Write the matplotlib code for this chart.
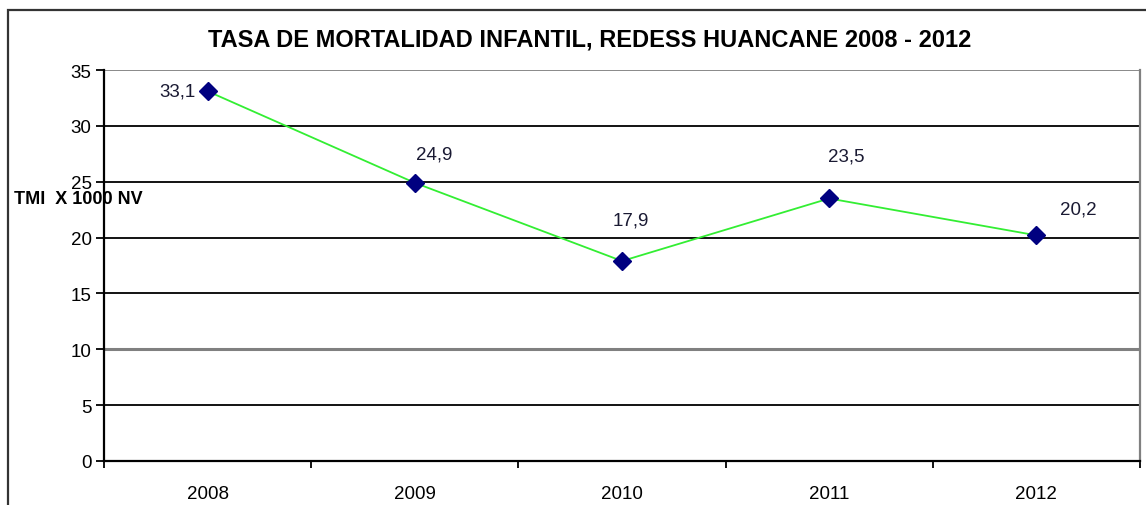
import matplotlib.pyplot as plt
from matplotlib.patches import Rectangle
import numpy as np

plt.rcParams['font.family'] = ['Liberation Sans', 'DejaVu Sans']

anios = ["2008", "2009", "2010", "2011", "2012"]
tmi = [33.1, 24.9, 17.9, 23.5, 20.2]
etiquetas = ["33,1", "24,9", "17,9", "23,5", "20,2"]

# desplazamiento de las etiquetas (pixeles)
offsets = [(-12, 0), (19, 29), (9, 41), (17, 42), (42, 26)]

fig = plt.figure(figsize=(11.46, 5.06), dpi=100)

# marco exterior del grafico
fig.patches.append(Rectangle((8 / 1146, -0.1), 1.2, 1.1 - 11 / 506,
                             transform=fig.transFigure, fill=False,
                             edgecolor="#333333", linewidth=1.6))

ax = fig.add_axes([104 / 1146, 44 / 506, 1036 / 1146, 391 / 506])
x = np.arange(len(anios))

for y in range(5, 35, 5):
    c = "#808080" if y == 10 else "black"
    lw = 2.2 if y == 10 else 1.3
    ax.axhline(y, color=c, linewidth=lw, zorder=1)
ax.axhline(35, color="#808080", linewidth=1.3, zorder=1)

ax.plot(x, tmi, color="#33ee33", linewidth=1.3, zorder=2)
ax.plot(x, tmi, linestyle="none", marker="D", markersize=9,
        color="#000080", zorder=3)

for i, (v, t) in enumerate(zip(tmi, etiquetas)):
    dx, dy = offsets[i]
    ha = "right" if dx < 0 else "center"
    ax.annotate(t, (x[i], v), xytext=(dx * 0.72, dy * 0.72),
                textcoords="offset points", ha=ha, va="center",
                fontsize=13.5, color="#1a1a33")

ax.set_xlim(-0.5, 4.5)
ax.set_ylim(0, 35)
ax.set_yticks(range(0, 36, 5))
ax.set_xticks(np.arange(-0.5, 4.6, 1))
ax.set_xticklabels([])
ax.set_xticks(x, minor=True)
ax.set_xticklabels(anios, minor=True)
ax.tick_params(axis="x", which="minor", length=0, pad=17, labelsize=13.5)
ax.tick_params(axis="x", which="major", length=5, width=1.3)
ax.tick_params(axis="y", length=6, width=1.3, labelsize=13.5, pad=3)

for s in ["left", "bottom"]:
    ax.spines[s].set_color("black")
    ax.spines[s].set_linewidth(1.6)
ax.spines["right"].set_color("#808080")
ax.spines["right"].set_linewidth(1.6)
ax.spines["top"].set_visible(False)

fig.text(590 / 1146, 1 - 40 / 506, "TASA DE MORTALIDAD INFANTIL, REDESS HUANCANE 2008 - 2012",
         ha="center", va="center", fontsize=17, fontweight="bold")
fig.text(14 / 1146, 1 - 200 / 506, "TMI  X 1000 NV", ha="left", va="center",
         fontsize=13, fontweight="bold", zorder=0)

plt.savefig("out.png", dpi=100)
plt.close()
